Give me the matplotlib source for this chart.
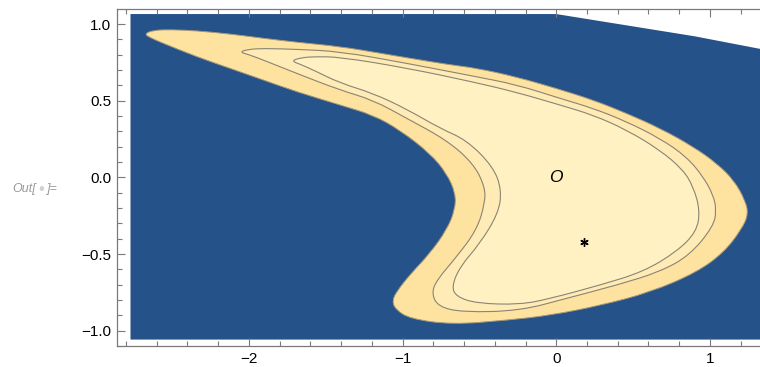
import numpy as np
import matplotlib.pyplot as plt
from matplotlib.ticker import MultipleLocator
from matplotlib.patches import Polygon, PathPatch
from matplotlib.path import Path

plt.rcParams['font.family'] = ['Liberation Sans', 'DejaVu Sans']

# plotting domain (the top-right corner is missing)
dom_x = [-2.77, 1.45, 1.45, 1.31, 0.90, 0.00, -2.77]
dom_y = [-1.058, -1.058, 0.815, 0.841, 0.920, 1.065, 1.065]

# outer level: edge of the admissible region
outer_x = [-2.680, -2.620, -2.500, -2.340, -2.123, -1.908, -1.689, -1.407, -1.148,
           -0.973, -0.700, -0.520, -0.260, 0.000, 0.241, 0.458, 0.675, 0.891,
           1.044, 1.155, 1.228, 1.250, 1.205, 1.090, 0.913, 0.610, 0.284, -0.041,
           -0.323, -0.680, -0.952, -1.045, -1.068, -1.035, -0.952, -0.822, -0.713,
           -0.659, -0.655, -0.713, -0.822, -1.018, -1.191, -1.407, -1.689, -1.906,
           -2.123, -2.340, -2.557, -2.640]
outer_y = [0.935, 0.960, 0.963, 0.956, 0.935, 0.907, 0.881, 0.853, 0.810,
           0.780, 0.735, 0.712, 0.655, 0.580, 0.504, 0.417, 0.320, 0.200,
           0.091, -0.018, -0.148, -0.240, -0.340, -0.490, -0.620, -0.750, -0.836, -0.900,
           -0.932, -0.960, -0.922, -0.862, -0.805, -0.740, -0.635, -0.496, -0.343,
           -0.213, -0.104, 0.026, 0.157, 0.309, 0.406, 0.472, 0.558, 0.635,
           0.711, 0.787, 0.874, 0.910]

# middle level
mid_x = [-2.060, -2.000, -1.906, -1.689, -1.407, -0.973, -0.540, -0.260, 0.024,
         0.241, 0.458, 0.675, 0.848, 0.956, 1.021, 1.042, 1.022, 0.870, 0.675,
         0.393, 0.068, -0.236, -0.605, -0.768, -0.811, -0.778, -0.648, -0.518,
         -0.464, -0.464, -0.540, -0.713, -0.973, -1.191, -1.407, -1.689, -1.906,
         -2.000]
mid_y = [0.818, 0.835, 0.841, 0.835, 0.821, 0.744, 0.660, 0.605, 0.515,
         0.450, 0.363, 0.254, 0.134, 0.004, -0.115, -0.213, -0.320, -0.507, -0.616,
         -0.703, -0.789, -0.870, -0.880, -0.844, -0.757, -0.670, -0.518, -0.344,
         -0.170, -0.061, 0.091, 0.243, 0.385, 0.504, 0.569, 0.678, 0.765,
         0.800]

# inner level
inner_x = [-1.725, -1.660, -1.581, -1.407, -0.973, -0.540, -0.260, 0.024, 0.241,
           0.458, 0.675, 0.826, 0.891, 0.935, 0.913, 0.783, 0.566, 0.284, -0.041,
           -0.236, -0.518, -0.648, -0.681, -0.627, -0.496, -0.377, -0.355, -0.410,
           -0.583, -0.757, -0.973, -1.191, -1.407, -1.581, -1.660]
inner_y = [0.760, 0.780, 0.787, 0.785, 0.713, 0.622, 0.555, 0.472, 0.406,
           0.309, 0.178, 0.048, -0.061, -0.213, -0.355, -0.485, -0.616, -0.703, -0.791,
           -0.830, -0.822, -0.779, -0.714, -0.583, -0.431, -0.235, -0.083, 0.069,
           0.243, 0.320, 0.445, 0.548, 0.615, 0.700, 0.735]

# marked points
origin_pt = (0.0, 0.0)
star_pt = (0.18, -0.42)


def smooth_closed(xs, ys):
    # closed quadratic Bezier outline using the vertices as control points
    pts = np.column_stack([xs, ys])
    mids = (pts + np.roll(pts, -1, axis=0)) / 2
    verts = [mids[-1]]
    codes = [Path.MOVETO]
    for p, m in zip(pts, mids):
        verts += [p, m]
        codes += [Path.CURVE3, Path.CURVE3]
    verts.append(mids[-1])
    codes.append(Path.CLOSEPOLY)
    return Path(verts, codes)


fig = plt.figure(figsize=(7.6, 3.67), dpi=100)
ax = fig.add_axes([0.1535, 0.0572, 0.8465, 0.9183])

ax.add_patch(Polygon(np.column_stack([dom_x, dom_y]), closed=True,
                     facecolor='#26528a', edgecolor='none', zorder=1))
ax.add_patch(PathPatch(smooth_closed(outer_x, outer_y),
                       facecolor='#fee2a0', edgecolor='#a89a78', lw=0.7, zorder=2))
ax.add_patch(PathPatch(smooth_closed(mid_x, mid_y),
                       facecolor='#feebb5', edgecolor='#8a8474', lw=0.8, zorder=3))
ax.add_patch(PathPatch(smooth_closed(inner_x, inner_y),
                       facecolor='#fff1c2', edgecolor='#8a8474', lw=0.8, zorder=4))

ax.text(origin_pt[0], origin_pt[1], 'O', style='italic', fontsize=12.5,
        ha='center', va='center', zorder=6)
ax.plot(star_pt[0], star_pt[1], marker=(6, 2, 0), color='black', ms=6,
        mew=1.0, zorder=6)

ax.set_xlim(-2.86, 1.3255)
ax.set_ylim(-1.10, 1.098)

ax.xaxis.set_major_locator(MultipleLocator(1))
ax.xaxis.set_minor_locator(MultipleLocator(0.2))
ax.yaxis.set_major_locator(MultipleLocator(0.5))
ax.yaxis.set_minor_locator(MultipleLocator(0.1))
ax.yaxis.set_major_formatter(plt.FuncFormatter(lambda v, p: f'{v:.1f}'.replace('-', '\u2212')))
ax.xaxis.set_major_formatter(plt.FuncFormatter(lambda v, p: f'{v:.0f}'.replace('-', '\u2212')))

for side in ['left', 'bottom', 'top']:
    ax.spines[side].set_color('#7a7a7a')
    ax.spines[side].set_linewidth(0.9)
ax.spines['right'].set_visible(False)
ax.tick_params(which='both', direction='in', top=True, right=False,
               color='#7a7a7a', width=0.8, labelsize=11, pad=4)
ax.tick_params(which='major', length=5.5)
ax.tick_params(which='minor', length=3.5)

# cell output label
lab_y = 1 - 189 / 367
fig.text(12 / 760, lab_y, 'Out[', color='#999999', style='italic',
         fontsize=9, va='center', ha='left')
fig.text(41.7 / 760, lab_y, '\u2022', color='#d0d0d0', fontsize=12,
         va='center', ha='center')
fig.text(46.5 / 760, lab_y, ']=', color='#999999', style='italic',
         fontsize=9, va='center', ha='left')

fig.savefig('out.png', dpi=100)
